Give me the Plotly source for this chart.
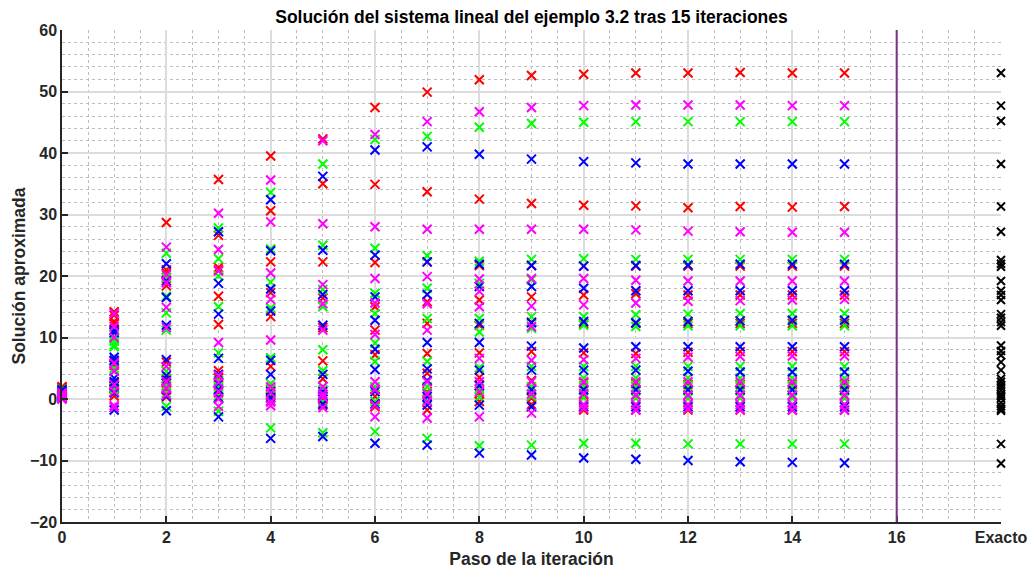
import plotly.graph_objects as go

# ---------------- DATA ----------------
iteraciones = list(range(16))  # paso 0 .. 15
x_exacto = 18
separador = 16
xtick_vals = [0, 2, 4, 6, 8, 10, 12, 14, 16, 18]
xtick_text = ["0", "2", "4", "6", "8", "10", "12", "14", "16", "Exacto"]

# valores por paso de iteración, agrupados por color del marcador
rojo = [
    [2.0, 1.9, 1.7, 1.4, 1.1, 0.9, 0.6, 0.4, 0.2],
    [14.2, 13.6, 12.6, 12.2, 6.1, 5.5, 2.6, 1.8, 0.5],
    [28.7, 21.0, 20.5, 18.4, 6.0, 3.3, 2.6, 1.5, 0.3],
    [35.7, 26.6, 21.4, 21.0, 16.7, 12.1, 4.6, 3.5, 1.0],
    [39.5, 30.6, 22.3, 17.3, 13.4, 5.3, 1.5, 0.5, -0.3],
    [42.3, 35.0, 22.3, 16.4, 11.6, 6.2, 3.3, 0.0, -1.0],
    [47.4, 34.9, 22.2, 15.0, 11.2, 7.2, 1.6, 0.4, -1.25],
    [49.9, 33.7, 22.3, 15.8, 12.3, 7.4, 4.2, 1.2, -1.8],
    [51.9, 32.5, 21.7, 16.1, 12.0, 7.5, 3.5, 0.9, -0.4],
    [52.6, 31.8, 21.7, 16.6, 12.5, 7.7, 3.0, 0.1, -0.9],
    [52.8, 31.5, 21.6, 16.9, 12.3, 7.5, 2.6, 0.65, -1.8],
    [53.0, 31.4, 21.6, 17.1, 12.3, 7.4, 2.5, 0.65, -1.8],
    [53.0, 31.1, 21.6, 16.9, 12.3, 7.6, 2.4, 0.6, -1.8],
    [53.1, 31.3, 21.6, 16.9, 12.3, 7.7, 2.4, 0.6, -1.8],
    [53.0, 31.2, 21.6, 16.9, 12.3, 7.7, 2.4, 0.6, -1.8],
    [53.0, 31.3, 21.6, 16.9, 12.3, 7.7, 2.4, 0.6, -1.8],
]
verde = [
    [1.6, 1.3, 1.0, 0.8, 0.6, 0.5, 0.3, 0.2, 0.1],
    [10.3, 9.9, 9.4, 8.8, 8.5, 5.0, 4.6, 2.0, 1.5],
    [23.7, 19.8, 16.7, 14.0, 11.2, 4.5, 2.2, 1.0, -1.2],
    [27.8, 22.8, 20.0, 15.0, 7.5, 3.0, 2.0, 0.5, -2.0],
    [33.6, 24.4, 19.0, 14.8, 6.7, 2.5, 1.8, 0.8, -4.7],
    [38.2, 25.0, 17.8, 15.0, 8.0, 4.6, 1.5, -0.5, -5.5],
    [42.2, 24.5, 17.2, 13.9, 9.1, 6.1, 2.0, -0.4, -5.3],
    [42.7, 23.3, 18.0, 13.1, 6.1, 2.0, 1.0, -0.2, -6.4],
    [44.2, 22.4, 18.8, 13.1, 10.9, 5.1, 1.7, 0.3, -7.6],
    [44.8, 22.7, 19.4, 13.4, 11.5, 5.3, 2.0, 0.5, -7.5],
    [45.0, 22.8, 13.4, 12.0, 5.3, 3.4, 2.0, 0.2, -7.2],
    [45.1, 22.7, 13.7, 11.8, 5.3, 3.4, 2.0, 0.1, -7.2],
    [45.1, 22.7, 13.8, 11.9, 5.3, 3.4, 2.0, 0.1, -7.3],
    [45.1, 22.7, 13.9, 11.9, 5.3, 3.4, 2.0, 0.1, -7.3],
    [45.1, 22.7, 13.9, 11.9, 5.3, 3.4, 2.0, 0.1, -7.3],
    [45.1, 22.7, 13.9, 11.9, 5.3, 3.4, 2.0, 0.1, -7.3],
]
azul = [
    [1.5, 1.2, 1.0, 0.9, 0.7, 0.5, 0.4, 0.2, 0.1],
    [11.2, 10.8, 6.8, 6.3, 3.4, 2.8, 2.2, 1.0, -1.8],
    [22.0, 19.2, 16.5, 12.0, 6.4, 3.8, 3.0, 0.5, -1.9],
    [27.2, 18.8, 13.8, 6.6, 4.0, 2.5, 1.5, 0.2, -2.9],
    [32.4, 24.1, 17.9, 14.3, 6.3, 4.0, 1.2, 0.2, -6.4],
    [36.2, 24.2, 17.0, 12.0, 4.0, 1.2, 0.5, -0.8, -6.1],
    [40.5, 23.4, 16.6, 12.8, 8.1, 4.8, 1.2, -0.8, -7.2],
    [41.0, 22.3, 17.0, 9.2, 4.9, 3.0, 0.4, -1.0, -7.5],
    [39.8, 21.9, 18.3, 12.3, 9.2, 4.7, 2.2, -1.0, -8.8],
    [39.0, 21.7, 18.3, 12.4, 8.6, 4.7, 1.5, -1.25, -9.1],
    [38.6, 21.6, 18.0, 12.6, 8.3, 4.7, 1.5, -1.25, -9.6],
    [38.4, 21.7, 17.6, 12.4, 8.5, 4.7, 1.5, -1.25, -9.8],
    [38.2, 21.8, 17.6, 12.6, 8.5, 4.5, 1.5, -1.25, -10.0],
    [38.2, 21.9, 17.6, 12.7, 8.5, 4.4, 1.5, -1.25, -10.2],
    [38.2, 21.9, 17.6, 12.8, 8.5, 4.4, 1.5, -1.25, -10.3],
    [38.2, 21.9, 17.6, 12.8, 8.5, 4.4, 1.5, -1.25, -10.4],
]
magenta = [
    [1.0, 0.8, 0.7, 0.5, 0.4, 0.3, 0.2, 0.1, 0.0],
    [13.9, 11.8, 10.0, 5.8, 4.5, 2.3, 1.2, -1.1, -1.4],
    [24.7, 20.2, 18.9, 14.9, 11.6, 5.3, 2.8, 1.8, 0.7],
    [30.2, 24.3, 20.8, 9.2, 3.8, 2.7, 1.2, 0.0, -1.2],
    [35.6, 28.8, 20.5, 16.2, 9.6, 2.0, 1.0, -0.5, -1.1],
    [42.0, 28.5, 18.6, 15.5, 11.2, 2.0, 0.8, 0.3, -1.4],
    [43.0, 28.0, 19.6, 15.6, 10.5, 2.8, 1.5, -1.0, -2.9],
    [45.1, 27.6, 19.9, 15.5, 11.2, 2.8, 0.8, -0.4, -3.1],
    [46.7, 27.6, 19.5, 17.5, 15.0, 6.6, 2.8, 1.2, -2.9],
    [47.4, 27.6, 19.6, 15.1, 11.8, 6.3, 2.8, 0.8, -2.3],
    [47.7, 27.6, 19.6, 15.3, 6.4, 2.8, 0.9, -0.9, -1.5],
    [47.8, 27.5, 19.3, 15.6, 6.6, 2.8, 0.65, -0.9, -1.8],
    [47.8, 27.3, 19.2, 15.9, 6.8, 2.8, 0.6, -0.9, -1.6],
    [47.8, 27.2, 19.2, 16.0, 6.9, 2.8, 0.6, -0.9, -1.7],
    [47.7, 27.1, 19.2, 16.1, 7.0, 2.8, 0.6, -0.9, -1.8],
    [47.7, 27.1, 19.2, 16.2, 7.0, 2.8, 0.6, -0.9, -1.8],
]
exacto = [53.0, 47.7, 45.2, 38.2, 31.3, 27.2, 22.6, 22.0, 21.5, 19.2,
          17.6, 16.9, 16.1, 13.8, 13.2, 12.5, 11.9, 8.7, 7.8, 7.1,
          6.0, 4.7, 3.3, 2.8, 2.3, 1.9, 1.4, 0.8, 0.5, 0.1,
          -0.6, -1.2, -1.6, -1.9, -7.3, -10.5]

# ---------------- FIGURE ----------------
fig = go.Figure()

series = [(rojo, "#FF0000"), (verde, "#00FF00"), (azul, "#0000FF"), (magenta, "#FF00FF")]
for valores, color in series:
    xs, ys = [], []
    for k, fila in zip(iteraciones, valores):
        for v in fila:
            xs.append(k)
            ys.append(v)
    fig.add_trace(go.Scatter(
        x=xs, y=ys, mode="markers", showlegend=False, cliponaxis=False,
        marker=dict(symbol="x-thin", size=9, line=dict(width=2, color=color), color=color),
    ))

fig.add_trace(go.Scatter(
    x=[x_exacto] * len(exacto), y=exacto, mode="markers", showlegend=False, cliponaxis=False,
    marker=dict(symbol="x-thin", size=8, line=dict(width=2, color="#000000"), color="#000000"),
))

fig.add_vline(x=separador, line=dict(color="#7E2F8E", width=2), layer="above")

font_fam = "Liberation Sans, Arial, Helvetica, sans-serif"
axis_common = dict(
    showline=True, linecolor="#262626", linewidth=1.5,
    ticks="inside", ticklen=6, tickwidth=1.5, tickcolor="#262626",
    showgrid=True, gridcolor="#DCDCDC", gridwidth=1.5,
    zeroline=False, automargin=False,
    tickfont=dict(family=font_fam, size=16, color="#262626", weight="bold"),
)

fig.update_layout(
    width=1034, height=570,
    margin=dict(l=62, r=33, t=30, b=48),
    paper_bgcolor="white", plot_bgcolor="white",
    title=dict(
        text="Solución del sistema lineal del ejemplo 3.2 tras 15 iteraciones",
        x=(62 + 1001) / 2 / 1034, xanchor="center", y=1 - 17 / 570, yanchor="middle",
        font=dict(family=font_fam, size=17.5, color="#000000", weight="bold"),
    ),
    xaxis=dict(
        axis_common,
        range=[0, 18], tickmode="array", tickvals=xtick_vals, ticktext=xtick_text,
        minor=dict(dtick=0.5, tick0=0, showgrid=True, gridcolor="#BDBDBD", griddash="dot", gridwidth=1, ticks=""),
        title=dict(text="Paso de la iteración", standoff=8,
                   font=dict(family=font_fam, size=17.5, color="#262626", weight="bold")),
    ),
    yaxis=dict(
        axis_common,
        range=[-20, 60], tickmode="linear", tick0=-20, dtick=10,
        minor=dict(dtick=2, tick0=0, showgrid=True, gridcolor="#BDBDBD", griddash="dot", gridwidth=1, ticks=""),
        title=dict(text="Solución aproximada", standoff=0,
                   font=dict(family=font_fam, size=17.5, color="#262626", weight="bold")),
    ),
)

fig.write_html("out.html")
